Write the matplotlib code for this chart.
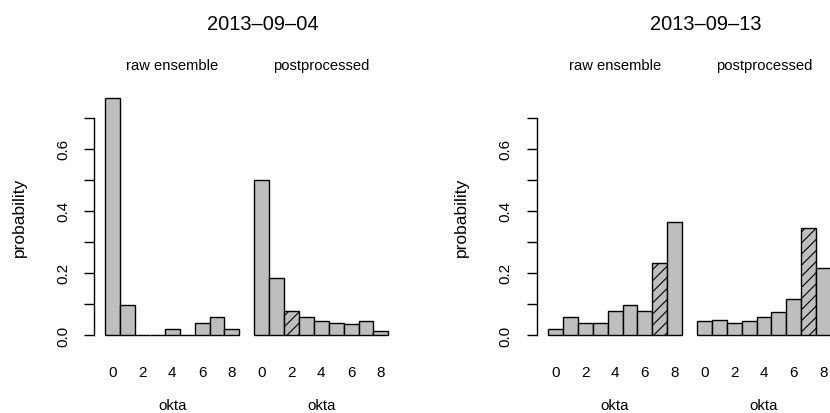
import matplotlib
matplotlib.use("Agg")
import matplotlib.pyplot as plt
import numpy as np

plt.rcParams["font.family"] = ["Liberation Sans", "DejaVu Sans"]
plt.rcParams["hatch.linewidth"] = 0.8

# Cloud cover forecasts (okta 0..8) for two dates
okta = np.arange(9)
dates = ["2013\u201309\u201304", "2013\u201309\u201313"]
observed = [2, 7]
raw_0904 = [0.765, 0.098, 0.0, 0.0, 0.020, 0.0, 0.039, 0.059, 0.020]
post_0904 = [0.500, 0.185, 0.077, 0.058, 0.045, 0.038, 0.034, 0.045, 0.013]
raw_0913 = [0.020, 0.059, 0.039, 0.039, 0.078, 0.098, 0.078, 0.231, 0.365]
post_0913 = [0.046, 0.049, 0.039, 0.046, 0.057, 0.075, 0.117, 0.346, 0.217]
group_labels = ["raw ensemble", "postprocessed"]
yticks = [0.0, 0.1, 0.2, 0.3, 0.4, 0.5, 0.6, 0.7]

panels = [(raw_0904, post_0904), (raw_0913, post_0913)]

W, H = 830, 414
fig = plt.figure(figsize=(W / 100, H / 100), dpi=100)

ymax = max(max(raw_0904), max(post_0904))
ylim = (-0.04 * ymax, 1.04 * ymax)
offsets = [0, 10]  # left edge of each group of bars

for k, (date, obs, groups) in enumerate(zip(dates, observed, panels)):
    left_px = 94 + 442.7 * k
    ax = fig.add_axes([left_px / W, 68.5 / H, 338 / W, 256.5 / H])
    for off, vals in zip(offsets, groups):
        bars = ax.bar(okta + off, vals, width=1.0, align="edge",
                      color="#bebebe", edgecolor="black", linewidth=1.0)
        bars[obs].set_hatch("///")
    ax.set_xlim(-0.76, 21.93)
    ax.set_ylim(*ylim)

    for s in ["top", "right", "bottom"]:
        ax.spines[s].set_visible(False)
    ax.spines["left"].set_bounds(0, 0.7)
    ax.spines["left"].set_linewidth(1.0)
    ax.set_yticks(yticks)
    ax.set_yticklabels([f"{v:.1f}" if i % 2 == 0 else "" for i, v in enumerate(yticks)])
    ax.tick_params(axis="y", length=7.2, width=1.0, pad=10, labelsize=11,
                   labelrotation=90)
    for lab in ax.get_yticklabels():
        lab.set_va("center")

    xt = [off + t + 0.5 for off in offsets for t in okta[::2]]
    ax.set_xticks(xt)
    ax.set_xticklabels([str(t) for off in offsets for t in okta[::2]])
    ax.tick_params(axis="x", length=0, pad=14.5, labelsize=11)

    for off, name in zip(offsets, group_labels):
        cx = off + 4.5
        ax.annotate(name, (cx, 1), xycoords=("data", "axes fraction"),
                    xytext=(0, 16.6), textcoords="offset points",
                    ha="center", va="center", fontsize=10.6)
        ax.annotate("okta", (cx, 0), xycoords=("data", "axes fraction"),
                    xytext=(0, -43.6), textcoords="offset points",
                    ha="center", va="center", fontsize=10.8)

    ax.annotate(date, (0.5, 1), xycoords="axes fraction",
                xytext=(0, 46.4), textcoords="offset points",
                ha="center", va="center", fontsize=14.4)
    ax.annotate("probability", (0, 0.5), xycoords="axes fraction",
                xytext=(-54, 0), textcoords="offset points",
                ha="center", va="center", rotation=90, fontsize=12.5)

fig.savefig("out.png", dpi=100)
